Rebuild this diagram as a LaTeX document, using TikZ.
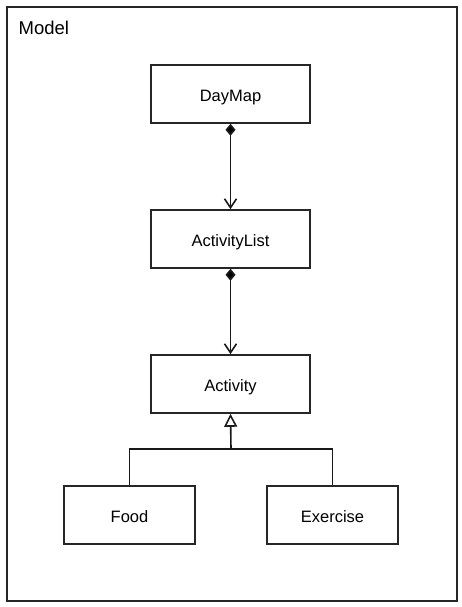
\documentclass[tikz,border=0pt]{standalone}
\usepackage{fontspec}
\setmainfont{Liberation Sans}
\usetikzlibrary{arrows.meta}
\begin{document}
\begin{tikzpicture}[x=1pt,y=-1pt,
  cls/.style={draw=black!85,line width=1.6pt,minimum width=159pt,minimum height=58pt,inner sep=0pt,text height=14.6pt,text depth=0pt,font=\fontsize{16.5}{18}\selectfont},
  sub/.style={cls,minimum width=131pt},
  comp/.style={draw=black!90,line width=1.6pt,{Diamond[length=12pt,width=10pt,fill=black]}-{Straight Barb[length=9pt,width=12pt,line width=1.6pt]}},
  inh/.style={draw=black!90,line width=1.6pt,-{Triangle[open,length=13pt,width=13pt,line width=1.6pt]}}]
\useasboundingbox (0,0) rectangle (461,607);
\node[draw=black!85,line width=1.6pt,minimum width=450pt,minimum height=594pt,inner sep=0pt] (frame) at (232,304) {};
\node[anchor=base west,inner sep=0pt,font=\fontsize{18.5}{21}\selectfont] (title) at (18.5,35) {Model};
\node[cls] (daymap) at (230.5,94) {DayMap};
\node[cls] (alist) at (230.5,239) {ActivityList};
\node[cls] (act) at (230.5,384) {Activity};
\node[sub] (food) at (129.5,515) {Food};
\node[sub] (ex) at (332.5,515) {Exercise};
\draw[comp] (daymap.south) -- (alist.north);
\draw[comp] (alist.south) -- (act.north);
\coordinate (j) at (231,449);
\draw[draw=black!90,line width=1.6pt] (food.north) -- (129.5,449) -- (332.5,449) -- (ex.north);
\draw[inh] (j) -- (act.south);
\end{tikzpicture}
\end{document}
